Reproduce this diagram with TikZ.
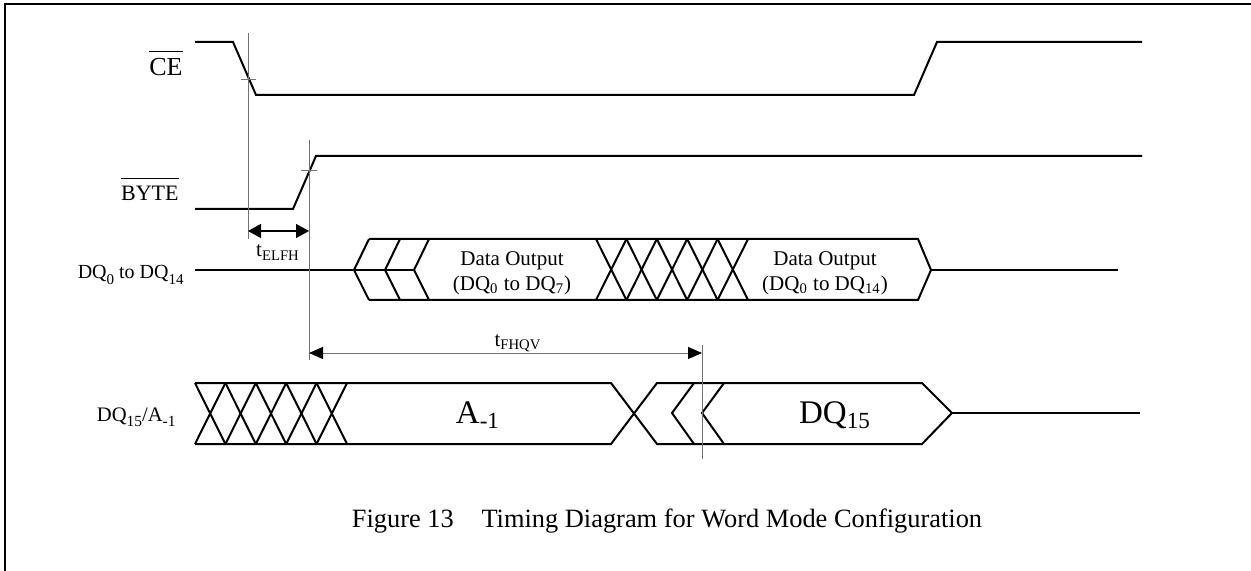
\documentclass[tikz,border=0pt]{standalone}
\usepackage{fontspec}
\setmainfont{Liberation Serif}
\usetikzlibrary{arrows.meta}
\newcommand{\lowsub}[1]{\raisebox{-0.27em}{\scalebox{0.75}{#1}}}

\begin{document}
\begin{tikzpicture}[x=0.5pt,y=-0.5pt,
    sig/.style={line width=1pt,line join=miter},
    guide/.style={black!55,line width=0.5pt},
    bar/.style={line width=0.6pt},
    small/.style={inner sep=0pt,font=\fontsize{10.5}{12.5}\selectfont},
    big/.style={inner sep=0pt,font=\fontsize{16.5}{20}\selectfont}]
  \useasboundingbox (0,0) rectangle (1251,571);
  \draw[line width=1pt] (5,571) -- (5,4) -- (1251,4);

  % signal names
  \node[inner sep=0pt,font=\fontsize{13}{15}\selectfont,anchor=base east] (ce) at (183,76) {CE};
  \draw[bar] ([yshift=3.5pt]ce.north west) -- ([yshift=3.5pt]ce.north east);
  \node[inner sep=0pt,font=\fontsize{11}{13}\selectfont,anchor=base east] (byte) at (179,201) {BYTE};
  \draw[bar] ([yshift=4pt]byte.north west) -- ([yshift=4pt]byte.north east);
  \node[inner sep=0pt,font=\fontsize{10}{12}\selectfont,anchor=base east] (dqlo) at (184,279) {DQ\lowsub{0} to DQ\lowsub{14}};
  \node[inner sep=0pt,font=\fontsize{10.3}{12}\selectfont,anchor=base east] (dqhi) at (176,421) {DQ\lowsub{15}/A\lowsub{-1}};

  % CE and BYTE
  \draw[sig] (195,42) -- (233,42) -- (256,95) -- (914,95) -- (937,42) -- (1142,42);
  \draw[sig] (195,209) -- (293,209) -- (316,156) -- (1142,156);

  % DQ0 to DQ14 bus
  \draw[sig] (195,270) -- (414,270);
  \draw[sig] (369,239) -- (918,239) -- (931,270) -- (918,300) -- (369,300);
  \draw[sig] (931,270) -- (1118,270);
  \foreach \x in {354,385,414}
    \draw[sig] (\x+15,239) -- (\x,270) -- (\x+15,300);
  \foreach \k in {0,...,4} {
    \draw[sig] (596+30.4*\k,239) -- (626.4+30.4*\k,300);
    \draw[sig] (596+30.4*\k,300) -- (626.4+30.4*\k,239);
  }
  \node[small,align=center] (outlo) at (512,273) {Data Output\\(DQ\textsubscript{0} to DQ\textsubscript{7})};
  \node[small,align=center] (outhi) at (825,273) {Data Output\\(DQ\textsubscript{0} to DQ\textsubscript{14})};

  % DQ15/A-1 bus
  \draw[sig] (195,383) -- (611,383) -- (657,444) -- (922,444) -- (952,413)
    -- (922,383) -- (657,383) -- (611,444) -- (195,444);
  \draw[sig] (952,413) -- (1140,413);
  \foreach \x in {672,702}
    \draw[sig] (\x+22,383) -- (\x,413) -- (\x+22,444);
  \foreach \k in {0,...,4} {
    \draw[sig] (195+30.4*\k,383) -- (225.4+30.4*\k,444);
    \draw[sig] (195+30.4*\k,444) -- (225.4+30.4*\k,383);
  }
  \node[big,anchor=base] (aone) at (478,423) {A\textsubscript{-1}};
  \node[big,anchor=base] (dqbit) at (835,423) {DQ\textsubscript{15}};

  % timing references
  \draw[guide] (248,33) -- (248,239);
  \draw[guide] (241,80) -- (256,80);
  \draw[guide] (309,140) -- (309,360);
  \draw[guide] (301,171) -- (317,171);
  \draw[guide] (702,345) -- (702,459);

  \coordinate (elfhL) at (248,231);
  \coordinate (elfhR) at (309,231);
  \draw[line width=0.7pt,{Triangle[length=6.5pt,width=7pt]}-{Triangle[length=6.5pt,width=7pt]}] (elfhL) -- (elfhR);
  \node[small,anchor=base] (elfh) at (278,257) {t\textsubscript{ELFH}};

  \coordinate (fhqvL) at (309,353);
  \coordinate (fhqvR) at (702,353);
  \draw[guide,{Triangle[length=7pt,width=6pt,color=black]}-{Triangle[length=7pt,width=6pt,color=black]}] (fhqvL) -- (fhqvR);
  \node[small,anchor=base] (fhqv) at (518,346) {t\textsubscript{FHQV}};

  \node[inner sep=0pt,font=\fontsize{13.2}{16}\selectfont,anchor=base] (cap) at (667,527) {Figure 13\hspace{1.05em}Timing Diagram for Word Mode Configuration};
\end{tikzpicture}
\end{document}
